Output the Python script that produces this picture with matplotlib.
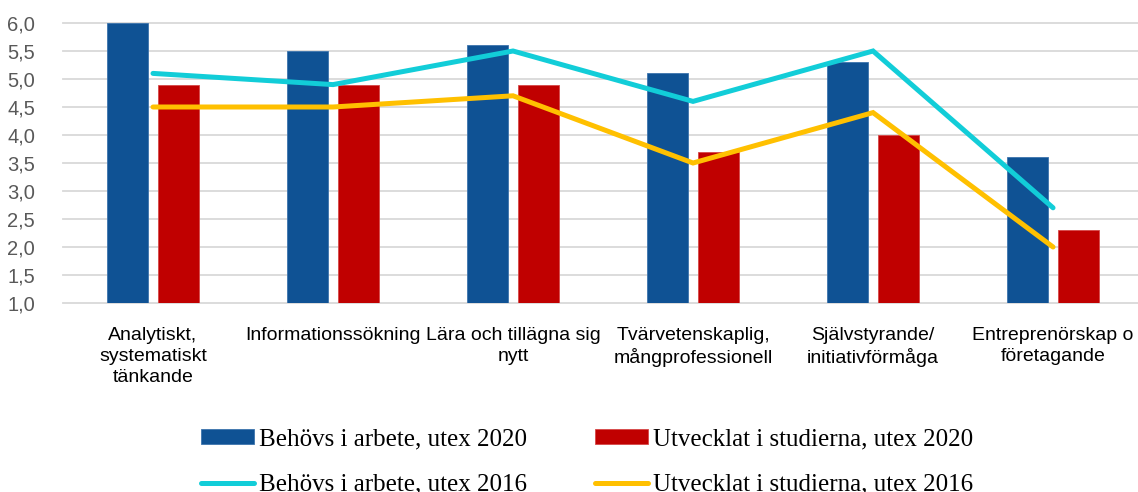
import numpy as np
import matplotlib.pyplot as plt
from matplotlib.ticker import FuncFormatter

# Kompetenser och medelvärden (skala 1-6)
kategorier = [
    "Analytiskt,\nsystematiskt\ntänkande",
    "Informationssökning",
    "Lära och tillägna sig\nnytt",
    "Tvärvetenskaplig,\nmångprofessionell",
    "Självstyrande/\ninitiativförmåga",
    "Entreprenörskap o\nföretagande",
]
behovs_2020 = [6.0, 5.5, 5.6, 5.1, 5.3, 3.6]
utvecklat_2020 = [4.9, 4.9, 4.9, 3.7, 4.0, 2.3]
behovs_2016 = [5.1, 4.9, 5.5, 4.6, 5.5, 2.7]
utvecklat_2016 = [4.5, 4.5, 4.7, 3.5, 4.4, 2.0]

etiketter = [
    "Behövs i arbete, utex 2020",
    "Behövs i arbete, utex 2016",
    "Utvecklat i studierna, utex 2020",
    "Utvecklat i studierna, utex 2016",
]

fig = plt.figure(figsize=(11.38, 4.92), dpi=100)
ax = fig.add_axes([63 / 1138, 189 / 492, 1 - 63 / 1138, 280 / 492])

x = np.arange(len(kategorier))
bredd = 0.228
b1 = ax.bar(x - 0.143, behovs_2020, bredd, bottom=0, color="#0F5294",
            edgecolor="#3C74AD", linewidth=0.6, zorder=2)
b2 = ax.bar(x + 0.143, utvecklat_2020, bredd, bottom=0, color="#C00000",
            edgecolor="#D64848", linewidth=0.6, zorder=2)
l1, = ax.plot(x, behovs_2016, color="#12CDD8", lw=3.6,
              solid_capstyle="round", solid_joinstyle="miter", zorder=3)
l2, = ax.plot(x, utvecklat_2016, color="#FFC000", lw=3.6,
              solid_capstyle="round", solid_joinstyle="miter", zorder=3)

ax.set_ylim(1.0, 6.0)
ax.set_xlim(-0.5, 5.472)
ax.set_yticks(np.arange(1.0, 6.01, 0.5))
ax.yaxis.set_major_formatter(FuncFormatter(lambda v, p: f"{v:.1f}".replace(".", ",")))
ax.grid(axis="y", color="#D9D9D9", lw=1.3, zorder=0)
for gl in ax.get_ygridlines():
    gl.set_clip_on(False)
ax.set_axisbelow(True)
for s in ax.spines.values():
    s.set_visible(False)

ax.tick_params(axis="y", length=0, pad=20, labelsize=14.5, labelcolor="#595959")
ax.tick_params(axis="x", length=0, pad=17)
for t in ax.get_yticklabels():
    t.set_family("Liberation Sans")
ax.set_xticks(x)
ax.set_xticklabels(kategorier, fontsize=14, family="Liberation Sans",
                   linespacing=1.32, color="black")

fig.legend([b1, l1, b2, l2], etiketter, ncol=2, frameon=False,
           loc="upper left", bbox_to_anchor=(201 / 1138, 1 - 428 / 492),
           borderpad=0, borderaxespad=0, handlelength=2.1, handleheight=0.55,
           handletextpad=0.22, columnspacing=2.72, labelspacing=0.95,
           prop={"family": "Liberation Serif", "size": 18})

fig.savefig("out.png", dpi=100)
